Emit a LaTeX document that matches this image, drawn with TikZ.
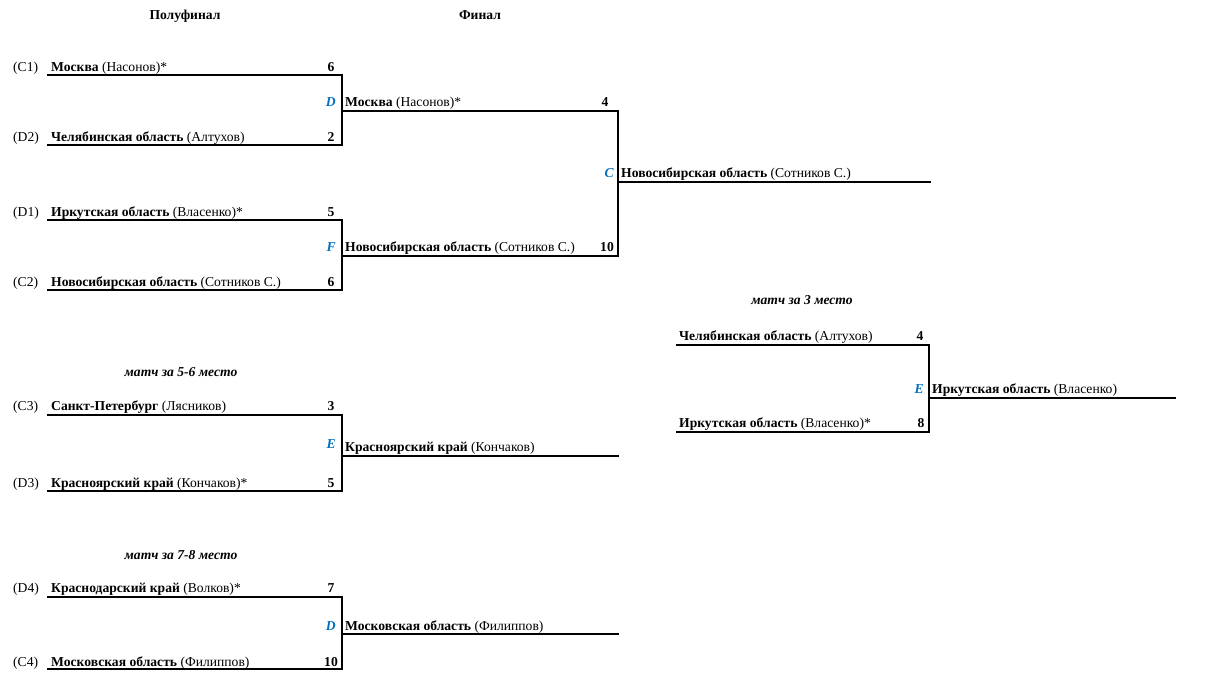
\documentclass[tikz,border=0pt]{standalone}
\usepackage{fontspec}
\setmainfont{Liberation Serif}
\definecolor{lblblue}{RGB}{0,112,192}
\newcommand{\fsz}{\fontsize{13.6}{15}\selectfont}
\begin{document}
\begin{tikzpicture}[x=1pt,y=-1pt,
  base/.style={inner sep=0pt,font=\fsz},
  team/.style={base,anchor=base west},
  seed/.style={base,anchor=base west},
  score/.style={base,anchor=base,font=\fsz\bfseries},
  mlabel/.style={base,anchor=base east,text=lblblue,font=\fsz\bfseries\itshape},
  hdr/.style={base,anchor=base,font=\fsz\bfseries},
  ihdr/.style={base,anchor=base,font=\fsz\bfseries\itshape},
  bline/.style={line width=2pt,line cap=rect}]
\useasboundingbox (0,0) rectangle (1205,700);

% headers
\node[hdr] (h1) at (185,20) {Полуфинал};
\node[hdr] (h2) at (480,20) {Финал};
\node[ihdr] (h3) at (802,305) {матч за 3 место};
\node[ihdr] (h4) at (181,377) {матч за 5-6 место};
\node[ihdr] (h5) at (181,559) {матч за 7-8 место};

% ---------- semifinal 1 ----------
\coordinate (a1s) at (48,75);  \coordinate (a1e) at (342,75);
\coordinate (a2s) at (48,145); \coordinate (a2e) at (342,145);
\node[seed] (sC1) at (13,72) {(C1)};
\node[team] (tC1) at (51,72) {\textbf{Москва} (Насонов)*};
\node[score] (nC1) at (331,72) {6};
\node[seed] (sD2) at (13,142) {(D2)};
\node[team] (tD2) at (51,142) {\textbf{Челябинская область} (Алтухов)};
\node[score] (nD2) at (331,142) {2};
\draw[bline] (a1s) -- (a1e) -- (a2e) -- (a2s);
\node[mlabel] (m1) at (336,107) {D};

% ---------- semifinal 2 ----------
\coordinate (b1s) at (48,220);  \coordinate (b1e) at (342,220);
\coordinate (b2s) at (48,290);  \coordinate (b2e) at (342,290);
\node[seed] (sD1) at (13,217) {(D1)};
\node[team] (tD1) at (51,217) {\textbf{Иркутская область} (Власенко)*};
\node[score] (nD1) at (331,217) {5};
\node[seed] (sC2) at (13,287) {(C2)};
\node[team] (tC2) at (51,287) {\textbf{Новосибирская область} (Сотников С.)};
\node[score] (nC2) at (331,287) {6};
\draw[bline] (b1s) -- (b1e) -- (b2e) -- (b2s);
\node[mlabel] (m2) at (336,252) {F};

% ---------- final ----------
\coordinate (f1s) at (342,111); \coordinate (f1e) at (618,111);
\coordinate (f2s) at (342,256); \coordinate (f2e) at (618,256);
\node[team] (tF1) at (345,107) {\textbf{Москва} (Насонов)*};
\node[score] (nF1) at (605,107) {4};
\node[team] (tF2) at (345,252) {\textbf{Новосибирская область} (Сотников С.)};
\node[score] (nF2) at (607,252) {10};
\draw[bline] (f1s) -- (f1e) -- (f2e) -- (f2s);
\node[mlabel] (m3) at (614,178) {C};
\coordinate (ws) at (618,182); \coordinate (we) at (930,182);
\draw[bline] (ws) -- (we);
\node[team] (tW) at (621,178) {\textbf{Новосибирская область} (Сотников С.)};

% ---------- 3rd place ----------
\coordinate (t1s) at (677,345); \coordinate (t1e) at (929,345);
\coordinate (t2s) at (677,432); \coordinate (t2e) at (929,432);
\node[team] (tT1) at (679,341) {\textbf{Челябинская область} (Алтухов)};
\node[score] (nT1) at (920,341) {4};
\node[team] (tT2) at (679,428) {\textbf{Иркутская область} (Власенко)*};
\node[score] (nT2) at (921,428) {8};
\draw[bline] (t1s) -- (t1e) -- (t2e) -- (t2s);
\node[mlabel] (m4) at (924,394) {E};
\coordinate (t3s) at (929,398); \coordinate (t3e) at (1175,398);
\draw[bline] (t3s) -- (t3e);
\node[team] (tT3) at (932,394) {\textbf{Иркутская область} (Власенко)};

% ---------- 5-6 place ----------
\coordinate (c1s) at (48,415);  \coordinate (c1e) at (342,415);
\coordinate (c2s) at (48,491);  \coordinate (c2e) at (342,491);
\node[seed] (sC3) at (13,411) {(C3)};
\node[team] (tC3) at (51,411) {\textbf{Санкт-Петербург} (Лясников)};
\node[score] (nC3) at (331,411) {3};
\node[seed] (sD3) at (13,487) {(D3)};
\node[team] (tD3) at (51,487) {\textbf{Красноярский край} (Кончаков)*};
\node[score] (nD3) at (331,487) {5};
\draw[bline] (c1s) -- (c1e) -- (c2e) -- (c2s);
\node[mlabel] (m5) at (336,449) {E};
\coordinate (c3s) at (342,456); \coordinate (c3e) at (618,456);
\draw[bline] (c3s) -- (c3e);
\node[team] (tC5) at (345,451) {\textbf{Красноярский край} (Кончаков)};

% ---------- 7-8 place ----------
\coordinate (d1s) at (48,597);  \coordinate (d1e) at (342,597);
\coordinate (d2s) at (48,669);  \coordinate (d2e) at (342,669);
\node[seed] (sD4) at (13,592) {(D4)};
\node[team] (tD4) at (51,592) {\textbf{Краснодарский край} (Волков)*};
\node[score] (nD4) at (331,592) {7};
\node[seed] (sC4) at (13,666) {(C4)};
\node[team] (tC4) at (51,666) {\textbf{Московская область} (Филиппов)};
\node[score] (nC4) at (331,666) {10};
\draw[bline] (d1s) -- (d1e) -- (d2e) -- (d2s);
\node[mlabel] (m6) at (336,630) {D};
\coordinate (d3s) at (342,634); \coordinate (d3e) at (618,634);
\draw[bline] (d3s) -- (d3e);
\node[team] (tD7) at (345,630) {\textbf{Московская область} (Филиппов)};
\end{tikzpicture}
\end{document}
